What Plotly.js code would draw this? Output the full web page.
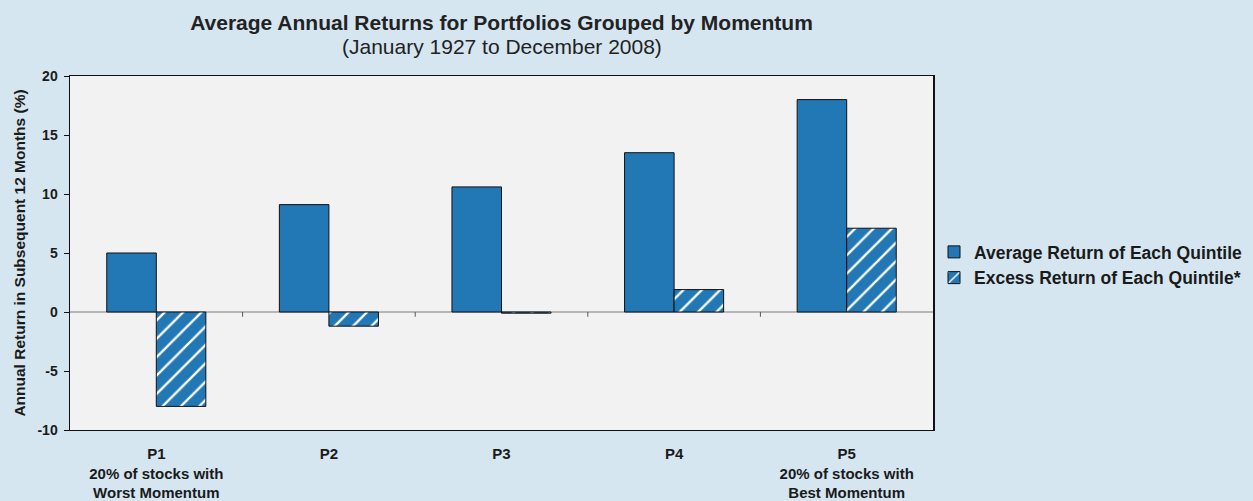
<!DOCTYPE html>
<html>
<head>
<meta charset="utf-8">
<script src="https://cdn.plot.ly/plotly-3.0.1.min.js"></script>
<style>html,body{margin:0;padding:0;background:#d5e6f1;}#chart{width:1253px;height:501px;}</style>
</head>
<body>
<div id="chart"></div>
<script>
const categories = ['P1', 'P2', 'P3', 'P4', 'P5'];
const tickLabels = [
  'P1<br>20% of stocks with<br>Worst Momentum',
  'P2',
  'P3',
  'P4',
  'P5<br>20% of stocks with<br>Best Momentum'
];
const averageReturn = [5.0, 9.1, 10.6, 13.5, 18.0];
const excessReturn = [-8.0, -1.2, -0.1, 1.9, 7.1];
const seriesNames = ['Average Return of Each Quintile', 'Excess Return of Each Quintile*'];
const yTicks = [-10, -5, 0, 5, 10, 15, 20];
const yTickText = ['-10', '-5', '0', '5', '10', '15', '20'];

const FONT = 'Liberation Sans, Arial, Helvetica, sans-serif';
const BLUE = '#2277b5';

const traces = [
  {
    type: 'bar', name: seriesNames[0], x: categories, y: averageReturn,
    marker: { color: BLUE, line: { color: '#111', width: 1 } },
    hoverinfo: 'x+y'
  },
  {
    type: 'bar', name: seriesNames[1], x: categories, y: excessReturn,
    marker: {
      color: BLUE, line: { color: '#111', width: 1 },
      pattern: { shape: '/', bgcolor: BLUE, fgcolor: '#ffffff', size: 13, solidity: 0.18, fillmode: 'replace' }
    },
    hoverinfo: 'x+y'
  }
];

// separator ticks between categories, drawn at the zero line
const shapes = [];
for (let i = 0; i < categories.length - 1; i++) {
  shapes.push({ type: 'line', xref: 'x', yref: 'y', x0: i + 0.5, x1: i + 0.5, y0: 0, y1: -0.4,
    line: { color: '#555', width: 1 } });
}
shapes.push({ type: 'line', xref: 'paper', yref: 'y', x0: 0, x1: 1, y0: 0, y1: 0,
  line: { color: '#7a7a7a', width: 1 }, layer: 'below' });

const layout = {
  width: 1253, height: 501,
  paper_bgcolor: '#d5e6f1', plot_bgcolor: '#f2f2f2',
  margin: { l: 70, r: 320, t: 76, b: 71, autoexpand: false },
  font: { family: FONT, color: '#1a1a1a' },
  barmode: 'group', bargap: 0.426, bargroupgap: 0,
  title: {
    text: '<b>Average Annual Returns for Portfolios Grouped by Momentum</b>',
    font: { size: 21, family: FONT, color: '#222' },
    xref: 'paper', x: 0.5, xanchor: 'center',
    yref: 'container', y: 1 - 23 / 501, yanchor: 'middle'
  },
  annotations: [{
    text: '(January 1927 to December 2008)', showarrow: false,
    xref: 'paper', x: 0.5, xanchor: 'center',
    yref: 'paper', y: 1 + (76 - 47) / 354, yanchor: 'middle',
    font: { size: 21, family: FONT, color: '#222' }
  }],
  xaxis: {
    type: 'category', range: [-0.5, categories.length - 0.5],
    tickmode: 'array', tickvals: categories, ticktext: tickLabels,
    ticks: '', showgrid: false, zeroline: false, ticklabelstandoff: 10,
    showline: true, linecolor: '#111', linewidth: 1, mirror: true,
    tickfont: { size: 15, family: FONT, weight: 'bold', color: '#1a1a1a' },
    fixedrange: true
  },
  yaxis: {
    range: [-10, 20], tickmode: 'array', tickvals: yTicks, ticktext: yTickText,
    ticks: 'outside', ticklen: 5, tickcolor: '#111', tickwidth: 1,
    showgrid: false, zeroline: false, ticklabelstandoff: 3,
    showline: true, linecolor: '#111', linewidth: 1.5, mirror: true,
    tickfont: { size: 14, family: FONT, weight: 'bold', color: '#1a1a1a' },
    title: { text: 'Annual Return in Subsequent 12 Months (%)', standoff: 8,
      font: { size: 15.5, family: FONT, weight: 'bold', color: '#1a1a1a' } },
    fixedrange: true
  },
  legend: {
    x: (934 - 70) / 863, xanchor: 'left', xref: 'paper',
    y: (430 - 265) / 354, yanchor: 'middle',
    bgcolor: 'rgba(0,0,0,0)', borderwidth: 0,
    font: { size: 17.5, family: FONT, weight: 'bold', color: '#1a1a1a' },
    itemwidth: 30, tracegroupgap: 4
  },
  shapes: shapes,
  showlegend: true
};

Plotly.newPlot('chart', traces, layout, { displayModeBar: false, staticPlot: true });
</script>
</body>
</html>
